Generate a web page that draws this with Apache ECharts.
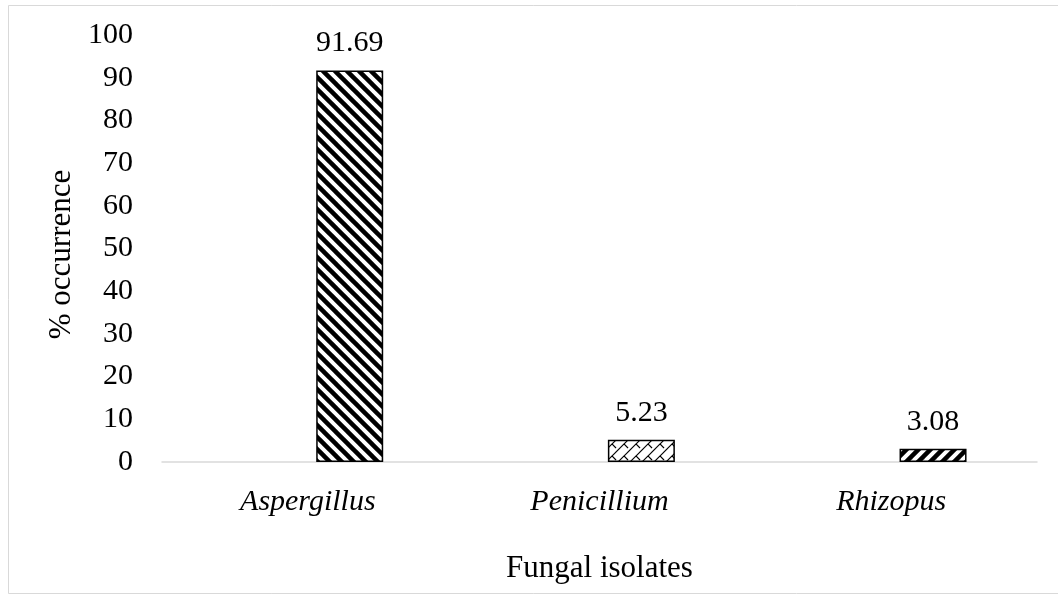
<!DOCTYPE html>
<html>
<head>
<meta charset="utf-8">
<script src="https://cdn.jsdelivr.net/npm/echarts@6/dist/echarts.min.js"></script>
<style>
    html, body { margin: 0; padding: 0; background: #fff; }
    #fungibar { width: 1058px; height: 595px; }
</style>
</head>
<body>
<div id="fungibar"></div>
<script>
    // data
    var isolates = ['Aspergillus', 'Penicillium', 'Rhizopus'];
    var occurrence = [91.69, 5.23, 3.08];
    var yTicks = [0, 10, 20, 30, 40, 50, 60, 70, 80, 90, 100];

    var serif = '"Liberation Serif", "DejaVu Serif", serif';

    // hatch fills, drawn on small canvases
    function hatch(kind) {
        var size = 12;
        var c = document.createElement('canvas');
        c.width = size; c.height = size;
        var ctx = c.getContext('2d');
        ctx.fillStyle = '#fff';
        ctx.fillRect(0, 0, size, size);
        ctx.strokeStyle = '#000';
        if (kind === 'down') {
            ctx.lineWidth = 4.5;
            for (var k = -1; k <= 1; k++) {
                ctx.beginPath();
                ctx.moveTo(k * size - 2, -2);
                ctx.lineTo(k * size + size + 2, size + 2);
                ctx.stroke();
            }
        } else if (kind === 'up') {
            ctx.lineWidth = 4.5;
            for (var k = -1; k <= 1; k++) {
                ctx.beginPath();
                ctx.moveTo(k * size - 2, size + 2);
                ctx.lineTo(k * size + size + 2, -2);
                ctx.stroke();
            }
        } else {
            ctx.lineWidth = 1.2;
            for (var k = -1; k <= 1; k++) {
                ctx.beginPath();
                ctx.moveTo(k * size - 2, size + 2);
                ctx.lineTo(k * size + size + 2, -2);
                ctx.stroke();
            }
            ctx.beginPath();
            ctx.moveTo(0, 0);
            ctx.lineTo(4, 4);
            ctx.stroke();
        }
        return { image: c, repeat: 'repeat' };
    }

    var fills = [hatch('down'), hatch('light'), hatch('up')];

    var chart = echarts.init(document.getElementById('fungibar'));

    var option = {
        backgroundColor: '#fff',
        animation: false,
        graphic: [{
            type: 'rect',
            shape: { x: 8.5, y: 5.5, width: 1060, height: 588 },
            style: { fill: 'none', stroke: '#d9d9d9', lineWidth: 1 },
            silent: true
        }],
        grid: {
            left: 162,
            right: 21,
            top: 35,
            bottom: 133
        },
        xAxis: {
            type: 'category',
            data: isolates,
            name: 'Fungal isolates',
            nameLocation: 'middle',
            nameGap: 91,
            nameTextStyle: { fontFamily: serif, fontSize: 31, color: '#000' },
            axisLine: { lineStyle: { color: '#d9d9d9', width: 1.5 } },
            axisTick: { show: false },
            axisLabel: {
                fontFamily: serif,
                fontSize: 30,
                fontStyle: 'italic',
                color: '#000',
                margin: 25
            }
        },
        yAxis: {
            type: 'value',
            min: yTicks[0],
            max: yTicks[yTicks.length - 1],
            interval: 10,
            name: '% occurrence',
            nameLocation: 'middle',
            nameGap: 82,
            nameRotate: 90,
            nameTextStyle: {
                fontFamily: serif,
                fontSize: 31,
                color: '#000',
                padding: [0, 12, 0, 0]
            },
            axisLine: { show: false },
            axisTick: { show: false },
            splitLine: { show: false },
            axisLabel: {
                fontFamily: serif,
                fontSize: 30,
                color: '#000',
                margin: 29
            }
        },
        series: [
            {
                // empty series: keeps the bars shifted right like the original
                name: 'blank',
                type: 'bar',
                barWidth: 67,
                barGap: '25%',
                data: isolates.map(function () { return '-'; })
            },
            {
                name: '% occurrence',
                type: 'bar',
                barWidth: 67,
                barGap: '25%',
                data: occurrence.map(function (v, i) {
                    return {
                        value: v,
                        itemStyle: { color: fills[i] }
                    };
                }),
                itemStyle: {
                    borderColor: '#000',
                    borderWidth: 1.5
                },
                label: {
                    show: true,
                    position: 'top',
                    distance: 12,
                    fontFamily: serif,
                    fontSize: 30,
                    color: '#000',
                    formatter: function (p) { return p.value.toFixed(2); }
                }
            }
        ]
    };

    chart.setOption(option);
</script>
</body>
</html>
